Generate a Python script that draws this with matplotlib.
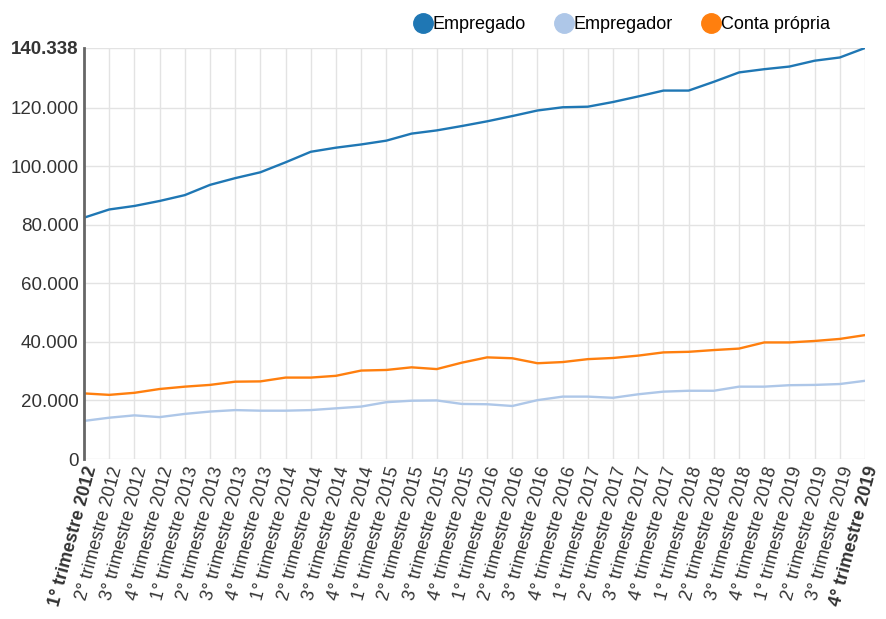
import matplotlib
matplotlib.use('Agg')
import matplotlib.pyplot as plt
from matplotlib.lines import Line2D

plt.rcParams['font.family'] = ['Liberation Sans', 'DejaVu Sans']

years = list(range(2012, 2020))
quarters = ['1°', '2°', '3°', '4°']
labels = [q + ' trimestre ' + str(y) for y in years for q in quarters]

# valores em milhares
empregado = [82.4, 85.2, 86.4, 88.1, 90.1, 93.6, 95.9, 97.9, 101.3, 104.9,
             106.3, 107.4, 108.7, 111.1, 112.2, 113.7, 115.3, 117.1, 119.0,
             120.1, 120.3, 121.9, 123.8, 125.8, 125.8, 128.8, 132.0, 133.1,
             134.0, 136.0, 137.1, 140.338]
empregador = [13.0, 14.1, 14.9, 14.3, 15.4, 16.2, 16.7, 16.5, 16.5, 16.7,
              17.3, 17.9, 19.4, 19.9, 20.0, 18.8, 18.7, 18.1, 20.1, 21.3,
              21.3, 20.9, 22.1, 23.0, 23.3, 23.3, 24.7, 24.7, 25.2, 25.3,
              25.6, 26.7]
conta_propria = [22.4, 21.9, 22.6, 23.9, 24.7, 25.3, 26.4, 26.5, 27.8, 27.8,
                 28.4, 30.2, 30.4, 31.3, 30.7, 32.9, 34.7, 34.4, 32.7, 33.1,
                 34.1, 34.5, 35.3, 36.4, 36.6, 37.2, 37.7, 39.8, 39.8, 40.3,
                 41.0, 42.3]

series = [('Empregado', empregado, '#1f77b4'),
          ('Empregador', empregador, '#aec7e8'),
          ('Conta própria', conta_propria, '#ff7f0e')]

fig = plt.figure(figsize=(8.86, 6.19), dpi=100)
ax = fig.add_axes([84 / 886, 1 - 459 / 619, 781 / 886, 411 / 619])

x = list(range(len(labels)))
for name, vals, color in series:
    ax.plot(x, [v * 1000 for v in vals], color=color, lw=1.7)

ymax = 140338
ax.set_xlim(0, len(labels) - 1)
ax.set_ylim(0, ymax)
yt = [0, 20000, 40000, 60000, 80000, 100000, 120000, ymax]
ax.set_yticks(yt)
ax.set_yticklabels(['0', '20.000', '40.000', '60.000', '80.000', '100.000',
                    '120.000', '140.338'], fontsize=13.5, color='#333333')
ax.get_yticklabels()[-1].set_fontweight('bold')
ax.set_xticks(x)
ax.set_xticklabels(labels, rotation=75, ha='right', va='top',
                   rotation_mode='anchor', fontsize=13, color='#333333')
xl = ax.get_xticklabels()
xl[0].set_fontweight('bold')
xl[-1].set_fontweight('bold')
ax.tick_params(length=0, pad=4)

ax.grid(True, color='#e3e3e3', lw=1)
ax.set_axisbelow(True)
for s in ['top', 'right', 'bottom']:
    ax.spines[s].set_visible(False)
ax.spines['left'].set_color('#666666')
ax.spines['left'].set_linewidth(2)

handles = [Line2D([], [], ls='none', marker='o', ms=14, color=c)
           for _, _, c in series]
fig.legend(handles, [n for n, _, _ in series], loc='upper right',
           bbox_to_anchor=(0.955, 1.0), ncol=3, frameon=False, fontsize=13,
           handletextpad=0.05, columnspacing=1.6, handlelength=1.0)

fig.savefig('out.png', dpi=100)
